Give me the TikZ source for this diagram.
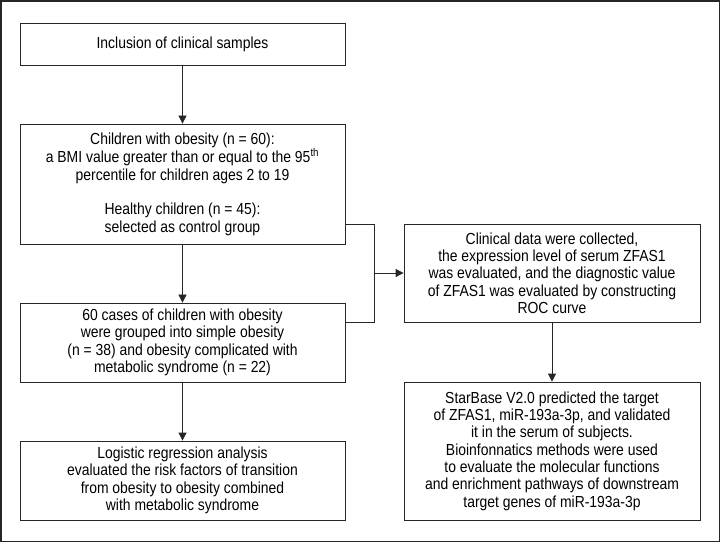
\documentclass[tikz,border=0pt]{standalone}
\usepackage{fontspec}
\setmainfont{Liberation Sans}[FakeStretch=0.87]
\usetikzlibrary{arrows.meta,positioning,calc}
\begin{document}
\begin{tikzpicture}[x=1bp,y=-1bp,
  box/.style={draw=black!85,line width=0.8pt,align=center,inner sep=0pt,font=\fontsize{16bp}{17.3bp}\selectfont,text=black},
  conn/.style={draw=black!85,line width=0.8pt},
  arr/.style={conn,-{Triangle[length=8bp,width=8bp]}}]
\useasboundingbox (0,0) rectangle (721,544);
\draw[line width=1.2pt,black!85] (1,1) rectangle (719.5,541.5);
\node[box,minimum width=325bp,minimum height=42bp] (b1) at (182.5,44) {Inclusion of clinical samples};
\node[box,minimum width=325bp,minimum height=120bp] (b2) at (182.5,184) {Children with obesity (n = 60):\\a BMI value greater than or equal to the 95\textsuperscript{th}\\percentile for children ages 2 to 19\\[17.3bp]Healthy children (n = 45):\\selected as control group};
\node[box,minimum width=325bp,minimum height=79bp] (b3) at (182.5,342.5) {60 cases of children with obesity\\were grouped into simple obesity\\(n = 38) and obesity complicated with\\metabolic syndrome (n = 22)};
\node[box,minimum width=325bp,minimum height=79bp] (b4) at (182.5,480.5) {Logistic regression analysis\\evaluated the risk factors of transition\\from obesity to obesity combined\\with metabolic syndrome};
\node[box,minimum width=296bp,minimum height=98bp] (bA) at (552,273) {Clinical data were collected,\\the expression level of serum ZFAS1\\was evaluated, and the diagnostic value\\of ZFAS1 was evaluated by constructing\\ROC curve};
\node[box,minimum width=296bp,minimum height=138bp] (bB) at (552,451) {StarBase V2.0 predicted the target\\of ZFAS1, miR-193a-3p, and validated\\it in the serum of subjects.\\Bioinfonnatics methods were used\\to evaluate the molecular functions\\and enrichment pathways of downstream\\target genes of miR-193a-3p};
\coordinate (c1) at (374,224);
\coordinate (c2) at (374,322);
\coordinate (c3) at (374,273);
\draw[arr] (b1) -- (b2);
\draw[arr] (b2) -- (b3);
\draw[arr] (b3) -- (b4);
\draw[arr] (bA) -- (bB);
\draw[conn] (c1 -| b2.east) -- (c1) -- (c2) -- (c2 -| b3.east);
\draw[arr] (c3) -- (bA.west);
\end{tikzpicture}
\end{document}
